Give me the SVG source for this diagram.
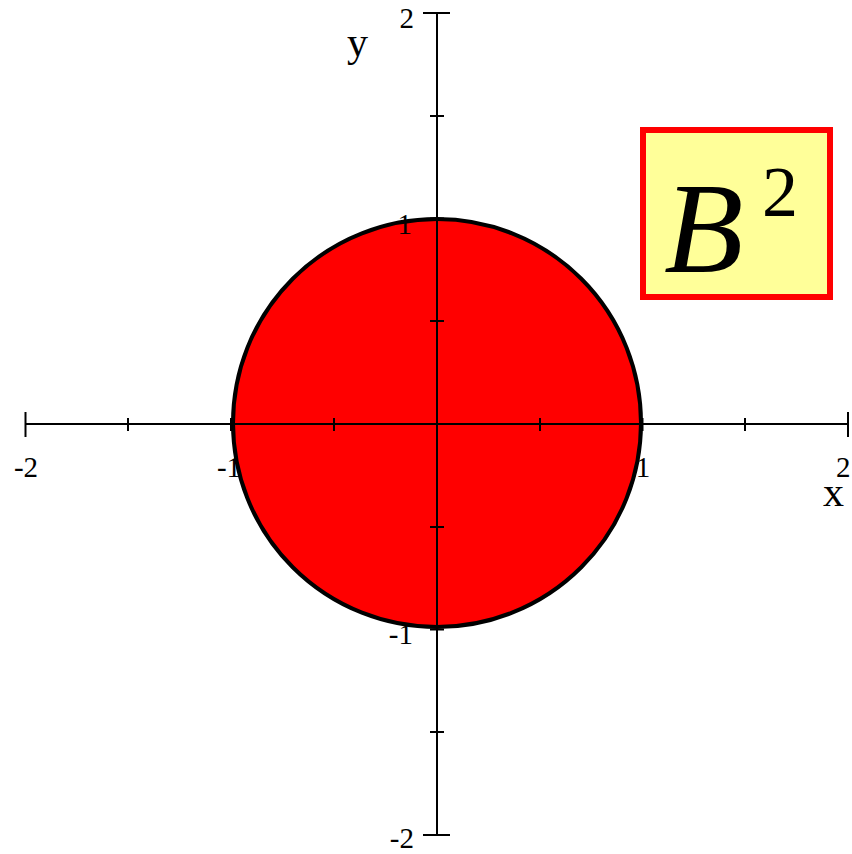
<svg xmlns="http://www.w3.org/2000/svg" width="852" height="854" viewBox="0 0 852 854">
<style>
.ax{stroke:#000;stroke-width:2;fill:none}
.tk{stroke:#000;stroke-width:2}
.lbl{font-family:"Liberation Serif","Times New Roman",serif;font-size:29px;fill:#000}
.axl{font-family:"Liberation Serif","Times New Roman",serif;font-size:42px;fill:#000}
</style>
<rect width="852" height="854" fill="#fff"/>
<g id="disk">
<circle cx="437" cy="423" r="204" fill="#ff0000" stroke="#000" stroke-width="4"/>
</g>
<g id="axes">
<line class="ax" x1="25.5" y1="424" x2="848" y2="424"/>
<line class="ax" x1="437" y1="13" x2="437" y2="835"/>
<g class="tk">
<line x1="25.5" y1="412" x2="25.5" y2="437"/>
<line x1="848" y1="412" x2="848" y2="437"/>
<line x1="128" y1="418" x2="128" y2="431"/>
<line x1="231" y1="418" x2="231" y2="431"/>
<line x1="334" y1="418" x2="334" y2="431"/>
<line x1="540" y1="418" x2="540" y2="431"/>
<line x1="642.5" y1="418" x2="642.5" y2="431"/>
<line x1="745" y1="418" x2="745" y2="431"/>
<line x1="423" y1="13" x2="450" y2="13"/>
<line x1="423" y1="835" x2="450" y2="835"/>
<line x1="430" y1="116" x2="444" y2="116"/>
<line x1="430" y1="218.5" x2="444" y2="218.5"/>
<line x1="430" y1="321" x2="444" y2="321"/>
<line x1="430" y1="527" x2="444" y2="527"/>
<line x1="430" y1="629.5" x2="444" y2="629.5"/>
<line x1="430" y1="732" x2="444" y2="732"/>
</g>
</g>
<g id="labels">
<text class="lbl" x="26" y="477" text-anchor="middle">-2</text>
<text class="lbl" x="229" y="477" text-anchor="middle">-1</text>
<text class="lbl" x="643" y="477" text-anchor="middle">1</text>
<text class="lbl" x="836" y="477">2</text>
<text class="lbl" x="414" y="28" text-anchor="end">2</text>
<text class="lbl" x="412" y="234" text-anchor="end">1</text>
<text class="lbl" x="413" y="644" text-anchor="end">-1</text>
<text class="lbl" x="414" y="848" text-anchor="end">-2</text>
<text class="axl" x="823" y="506">x</text>
<text class="axl" x="347" y="56">y</text>
</g>
<g id="title">
<rect x="643" y="130" width="187" height="167" fill="#ffff99" stroke="#ff0000" stroke-width="6"/>
<text x="664" y="272" font-family="'Liberation Serif','Times New Roman',serif" font-style="italic" font-size="130" fill="#000">B</text>
<text x="762" y="216" font-family="'Liberation Serif','Times New Roman',serif" font-size="72" fill="#000">2</text>
</g>
</svg>
